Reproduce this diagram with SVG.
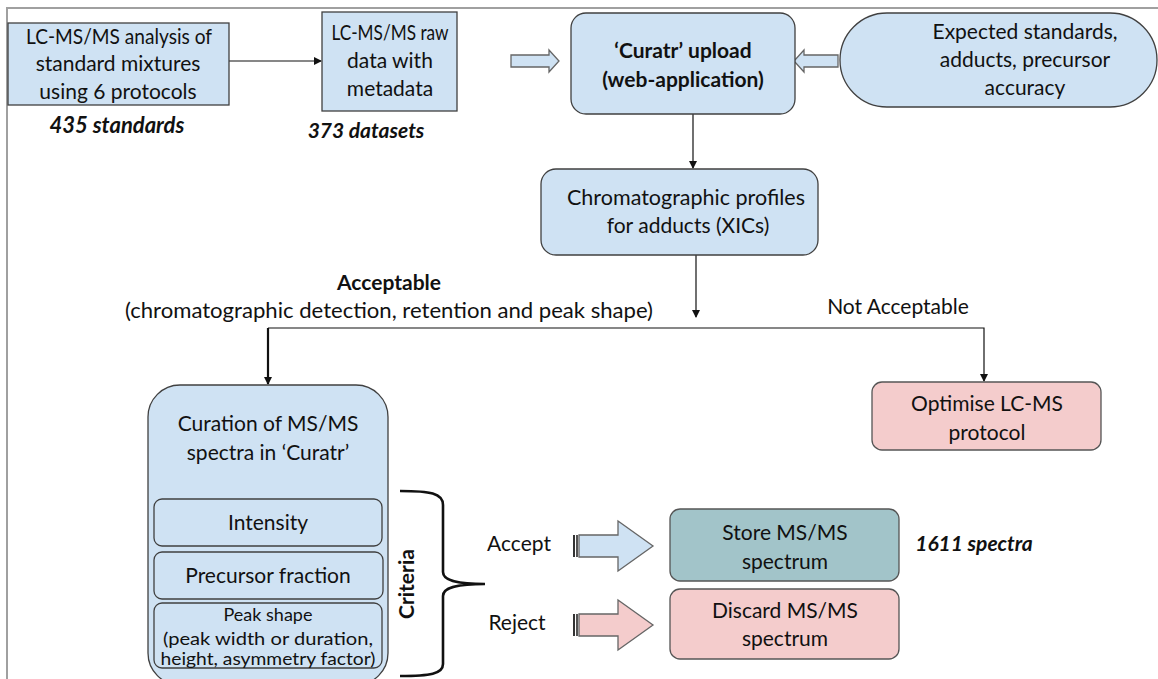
<svg xmlns="http://www.w3.org/2000/svg" width="1158" height="679" viewBox="0 0 1158 679">
<style>
text{font-family:Lato,"Liberation Sans",Arial,sans-serif;font-size:21px;fill:#111;text-anchor:middle}
.b{font-weight:bold}
.bi{font-weight:bold;font-style:italic}
.sm{font-size:18px}
.blue{fill:#cfe2f3;stroke:#404040;stroke-width:1.3}
.pink{fill:#f4cccc;stroke:#555;stroke-width:1.3}
.teal{fill:#a2c4c9;stroke:#555;stroke-width:1.3}
.ln{stroke:#111;stroke-width:1.2;fill:none}
.hol{stroke:#666;stroke-width:1.3}
</style>
<defs>
<marker id="ah" markerWidth="8" markerHeight="8" refX="7" refY="4" orient="auto" markerUnits="userSpaceOnUse"><path d="M0,0 L8,4 L0,8 z" fill="#111"/></marker>
</defs>
<rect width="1158" height="679" fill="#fff"/>
<path d="M7,679 V8 H1158" fill="none" stroke="#a0a0a0" stroke-width="2"/>

<g id="connectors">
<line class="ln" x1="229" y1="61" x2="321" y2="61" marker-end="url(#ah)"/>
<path class="hol" fill="#cfe2f3" d="M511,55 H549 V50 L559,61 L549,72 V67 H511 z"/>
<path class="hol" fill="#cfe2f3" d="M838,55 H804 V50 L794,61 L804,72 V67 H838 z"/>
<line class="ln" x1="693" y1="114" x2="693" y2="168" marker-end="url(#ah)"/>
<line class="ln" x1="696" y1="255" x2="696" y2="317" marker-end="url(#ah)"/>
<path class="ln" d="M268,328 H984 V381" marker-end="url(#ah)"/>
<line x1="268" y1="328" x2="268" y2="384" stroke="#111" stroke-width="2.2" marker-end="url(#ah)"/>
<g id="accept-arrow">
<rect x="573" y="535" width="2" height="22" fill="#333"/>
<rect x="576" y="535" width="2" height="22" fill="#555"/>
<path class="hol" fill="#cfe2f3" d="M579,535 H618 V521 L653,546 L618,571 V557 H579 z"/>
</g>
<g id="reject-arrow">
<rect x="573" y="614" width="2" height="22" fill="#333"/>
<rect x="576" y="614" width="2" height="22" fill="#555"/>
<path class="hol" fill="#f4cccc" d="M579,614 H618 V600 L653,625 L618,650 V636 H579 z"/>
</g>
<path d="M400,491 C430,491 443,493 443,505 V572 C443,580 455,584 485,584 C455,584 443,588 443,596 V664 C443,674 430,676 400,676" fill="none" stroke="#111" stroke-width="2.6"/>
</g>

<g id="n-lcms">
<rect class="blue" x="8" y="23" width="221" height="82"/>
<text x="119" y="44" textLength="186" lengthAdjust="spacingAndGlyphs">LC-MS/MS analysis of</text>
<text x="118" y="71">standard mixtures</text>
<text x="118" y="99">using 6 protocols</text>
</g>
<text class="bi" x="117" y="133" style="font-size:22px">435 standards</text>

<g id="n-raw">
<rect class="blue" x="322" y="12" width="135" height="99"/>
<text x="390" y="40" textLength="117" lengthAdjust="spacingAndGlyphs">LC-MS/MS raw</text>
<text x="390" y="68">data with</text>
<text x="390" y="96">metadata</text>
</g>
<text class="bi" x="366" y="138">373 datasets</text>

<g id="n-upload">
<rect class="blue" x="571" y="13" width="224" height="101" rx="15"/>
<text class="b" x="683" y="58">‘Curatr’ upload</text>
<text class="b" x="683" y="87">(web-application)</text>
</g>

<g id="n-expected">
<rect class="blue" x="840" y="13" width="317" height="94" rx="47"/>
<text x="1025" y="39">Expected standards,</text>
<text x="1025" y="67">adducts, precursor</text>
<text x="1025" y="95">accuracy</text>
</g>

<g id="n-chrom">
<rect class="blue" x="541" y="169" width="277" height="86" rx="15"/>
<text x="686" y="205" textLength="238" lengthAdjust="spacingAndGlyphs">Chromatographic profiles</text>
<text x="688" y="233">for adducts (XICs)</text>
</g>

<text class="b" x="389" y="290">Acceptable</text>
<text x="389" y="318" textLength="528" lengthAdjust="spacingAndGlyphs">(chromatographic detection, retention and peak shape)</text>
<text x="898" y="314">Not Acceptable</text>

<g id="n-optimise">
<rect class="pink" x="872" y="382" width="229" height="68" rx="10"/>
<text x="987" y="411">Optimise LC-MS</text>
<text x="987" y="440">protocol</text>
</g>

<g id="n-curation">
<rect class="blue" x="148" y="385" width="240" height="300" rx="32"/>
<text x="268" y="431">Curation of MS/MS</text>
<text x="268" y="460">spectra in ‘Curatr’</text>
</g>
<g id="n-intensity">
<rect class="blue" x="154" y="499" width="228" height="47" rx="8"/>
<text x="268" y="530">Intensity</text>
</g>
<g id="n-precursor">
<rect class="blue" x="154" y="552" width="229" height="47" rx="8"/>
<text x="268" y="583">Precursor fraction</text>
</g>
<g id="n-peak">
<rect class="blue" x="154" y="603" width="228" height="65" rx="8"/>
<text class="sm" x="268" y="621">Peak shape</text>
<text class="sm" x="268" y="645" textLength="210" lengthAdjust="spacingAndGlyphs">(peak width or duration,</text>
<text class="sm" x="268" y="665" textLength="215" lengthAdjust="spacingAndGlyphs">height, asymmetry factor)</text>
</g>

<text class="b" x="414" y="584" transform="rotate(-90 414 584)">Criteria</text>
<text x="519" y="551">Accept</text>
<text x="517" y="630">Reject</text>

<g id="n-store">
<rect class="teal" x="670" y="509" width="229" height="72" rx="10"/>
<text x="785" y="540">Store MS/MS</text>
<text x="785" y="569">spectrum</text>
</g>
<text class="bi" x="974" y="551">1611 spectra</text>

<g id="n-discard">
<rect class="pink" x="670" y="589" width="229" height="70" rx="10"/>
<text x="785" y="618">Discard MS/MS</text>
<text x="785" y="646">spectrum</text>
</g>
</svg>
